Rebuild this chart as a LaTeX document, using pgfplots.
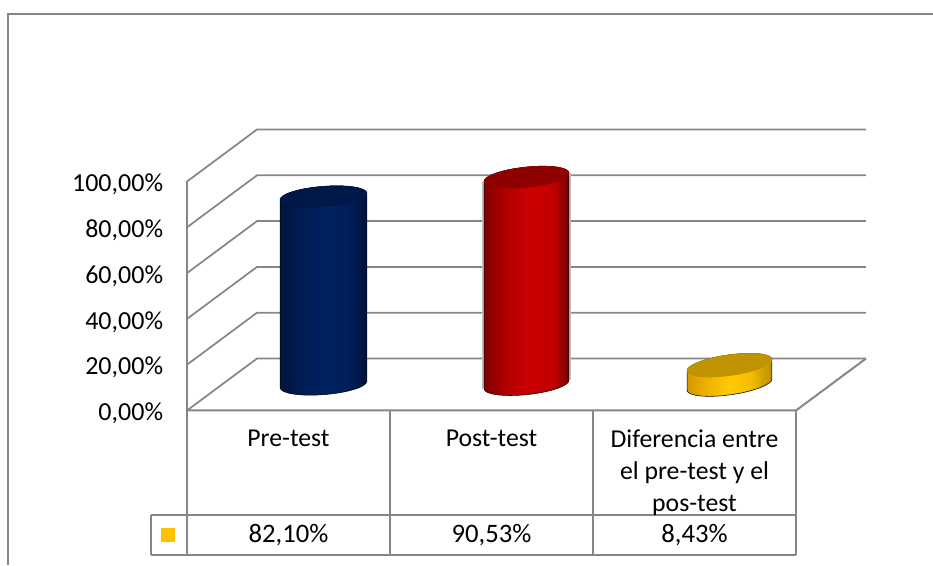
\documentclass[border=0pt]{standalone}
\usepackage{fontspec}
\setmainfont{Carlito}
\usepackage{pgfplots}
\pgfplotsset{compat=1.18}

\definecolor{rule}{HTML}{868686}
\definecolor{legendgold}{HTML}{FFC000}
\definecolor{capblue}{HTML}{001848}
\definecolor{capred}{HTML}{8F0000}
\definecolor{capgold}{HTML}{C09400}

% Cylinder side shadings: the visible band of a path shading is 25bp..75bp.
\pgfdeclarehorizontalshading{cylblue}{100bp}{
  rgb(0bp)=(0,0.08,0.24); rgb(25bp)=(0,0.08,0.24); rgb(37bp)=(0,0.11,0.32);
  rgb(50bp)=(0,0.13,0.38); rgb(63bp)=(0,0.12,0.35); rgb(75bp)=(0,0.07,0.24); rgb(100bp)=(0,0.07,0.24)}
\pgfdeclarehorizontalshading{cylred}{100bp}{
  rgb(0bp)=(0.50,0,0); rgb(25bp)=(0.50,0,0); rgb(37bp)=(0.68,0,0);
  rgb(50bp)=(0.79,0,0); rgb(66bp)=(0.76,0,0); rgb(75bp)=(0.42,0,0); rgb(100bp)=(0.42,0,0)}
\pgfdeclarehorizontalshading{cylgold}{100bp}{
  rgb(0bp)=(0.82,0.60,0); rgb(25bp)=(0.82,0.60,0); rgb(37bp)=(0.93,0.70,0);
  rgb(50bp)=(1,0.79,0); rgb(62bp)=(0.96,0.74,0); rgb(75bp)=(0.72,0.55,0); rgb(100bp)=(0.72,0.55,0)}

% A point (#1,#2) of a tilted ellipse, lowered by \cylh.
\newcommand\ep[2]{({(#1)*\cylc-(#2)*\cyls},{(#1)*\cyls+(#2)*\cylc-\cylh})}
% The same point at cap level.
\newcommand\eq[2]{({(#1)*\cylc-(#2)*\cyls},{(#1)*\cyls+(#2)*\cylc})}

% One cylinder per data point, its height taken from the y value.
% #1 tilt of the ellipses, #2 side shading, #3 cap colour, #4 half width, #5 half height,
% #6 style of the faint rim on both sides
\pgfplotsset{
  cylinder bar/.style n args={6}{
    only marks, scatter, mark=*, mark size=0pt,
    mark options={draw=none,fill=none},
    visualization depends on={rawy \as \cylval},
    scatter/@pre marker code/.code={%
      \pgfmathsetmacro\cylh{\cylval*2.29}%
      \pgfmathsetmacro\cylc{cos(#1)}%
      \pgfmathsetmacro\cyls{sin(#1)}%
      \pgfmathsetmacro\cylk{0.5523*#4}%
      \pgfmathsetmacro\cylm{0.5523*#5}%
      \edef\cylrims{\eq{-#4-1}{0} -- \ep{-#4-1}{0} \eq{#4+1}{0} -- \ep{#4+1}{0}}%
      \edef\cylside{\eq{-#4}{0} -- \ep{-#4}{0}
          .. controls \ep{-#4}{-\cylm} and \ep{-\cylk}{-#5} .. \ep{0}{-#5}
          .. controls \ep{\cylk}{-#5} and \ep{#4}{-\cylm} .. \ep{#4}{0}
          -- \eq{#4}{0}
          .. controls \eq{#4}{\cylm} and \eq{\cylk}{#5} .. \eq{0}{#5}
          .. controls \eq{-\cylk}{#5} and \eq{-#4}{\cylm} .. \eq{-#4}{0} -- cycle}%
      \edef\cylcap{\eq{-#4}{0}
          .. controls \eq{-#4}{-\cylm} and \eq{-\cylk}{-#5} .. \eq{0}{-#5}
          .. controls \eq{\cylk}{-#5} and \eq{#4}{-\cylm} .. \eq{#4}{0}
          .. controls \eq{#4}{\cylm} and \eq{\cylk}{#5} .. \eq{0}{#5}
          .. controls \eq{-\cylk}{#5} and \eq{-#4}{\cylm} .. \eq{-#4}{0} -- cycle}%
      \begin{scope}[x=0.75pt,y=0.75pt]
        \edef\cylcmd{\noexpand\draw[#6] \cylrims;}\cylcmd
        \edef\cylcmd{\noexpand\shade[shading=#2] \cylside;}\cylcmd
        \edef\cylcmd{\noexpand\fill[#3] \cylcap;}\cylcmd
      \end{scope}
    },
    scatter/@post marker code/.code={},
  },
}

\begin{document}
\begin{tikzpicture}
  \path[use as bounding box] (0,0) rectangle (699.75pt,-423.75pt);

  % Outer frame and data table
  \begin{scope}[x=0.75pt,y=-0.75pt]
    \draw[rule,line width=1.5pt] (933,14) -- (8,14) -- (8,565);
    \draw[rule,line width=1.5pt] (151,515) -- (796,515);
    \draw[rule,line width=1.5pt] (151,555) -- (796,555);
    \draw[rule,line width=1.5pt] (151,515) -- (151,555);
    \draw[rule,line width=1.3pt] (187,410) -- (187,555);
    \draw[rule,line width=1.3pt] (390,410) -- (390,555);
    \draw[rule,line width=1.3pt] (593,410) -- (593,555);
    \draw[rule,line width=1.3pt] (796,410) -- (796,555);
    \fill[legendgold] (161,528) rectangle (175,542);
    \node[font=\fontsize{20}{22}\selectfont] at (288.5,535) {82,10\%};
    \node[font=\fontsize{20}{22}\selectfont] at (491.5,535) {90,53\%};
    \node[font=\fontsize{20}{22}\selectfont] at (694.5,535) {8,43\%};
  \end{scope}

  \begin{axis}[
    at={(166.5pt,-288.375pt)}, anchor=south west,
    scale only axis, width=456.75pt, height=171.75pt,
    xmin=-0.5, xmax=2.5, ymin=0, ymax=100,
    clip=false,
    axis line style={draw=none},
    tick style={draw=none},
    xtick={0,1,2},
    xticklabels={Pre-test,Post-test,{Diferencia entre\\el pre-test y el\\pos-test}},
    xticklabel style={anchor=north,align=center,inner sep=0pt,xshift=-26.25pt,yshift=-34pt,
      font=\fontsize{19.3}{24}\selectfont},
    ytick={0,20,40,60,80,100},
    yticklabels={{0,00\%},{20,00\%},{40,00\%},{60,00\%},{80,00\%},{100,00\%}},
    yticklabel style={anchor=east,inner sep=0pt,xshift=-44pt,yshift=-21.8pt,
      font=\fontsize{19.5}{22}\selectfont},
  ]
    % Side wall, back wall and floor of the chart box
    \addplot[rule,line width=1.3pt] coordinates {(-0.6724,-11.35) (-0.6724,88.65)};
    \addplot[rule,line width=1.5pt] coordinates {(-0.6724,-11.35) (2.3276,-11.35) (2.6724,11.35)};
    \addplot[rule,line width=1.3pt] coordinates {(-0.6724,-11.35) (-0.3276,11.35) (2.6724,11.35)};
    \addplot[rule,line width=1.3pt] coordinates {(-0.6724,8.65) (-0.3276,31.35) (2.6724,31.35)};
    \addplot[rule,line width=1.3pt] coordinates {(-0.6724,28.65) (-0.3276,51.35) (2.6724,51.35)};
    \addplot[rule,line width=1.3pt] coordinates {(-0.6724,48.65) (-0.3276,71.35) (2.6724,71.35)};
    \addplot[rule,line width=1.3pt] coordinates {(-0.6724,68.65) (-0.3276,91.35) (2.6724,91.35)};
    \addplot[rule,line width=1.3pt] coordinates {(-0.6724,88.65) (-0.3276,111.35) (2.6724,111.35)};

    % The three cylinders
    \addplot[cylinder bar={4.5}{cylblue}{capblue}{43.5}{10.1}{draw=none}] coordinates {(0,82.10)};
    \addplot[cylinder bar={6}{cylred}{capred}{42.7}{10.1}{draw=gray!50,line width=1pt}] coordinates {(1,90.53)};
    \addplot[cylinder bar={8}{cylgold}{capgold}{42.9}{10.3}{draw=none}] coordinates {(2,8.43)};
  \end{axis}
\end{tikzpicture}
\end{document}
